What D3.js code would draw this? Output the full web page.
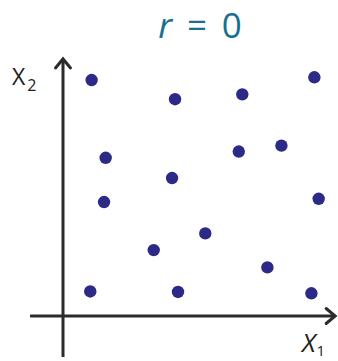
<!DOCTYPE html>
<html>
<head>
<meta charset="utf-8">
<script src="https://cdn.jsdelivr.net/npm/d3@7"></script>
<style>
  html, body { margin: 0; padding: 0; background: #fff; }
  svg { display: block; }
</style>
</head>
<body>
<div id="chart"></div>
<script>
// Data
const x1Values = [10.6, 41.5, 66.4, 93.1, 15.8, 65.1, 80.9, 40.4, 15.2, 94.7, 52.7, 33.6, 75.7, 10.1, 42.6, 92.0];
const x2Values = [87.4, 80.3, 82.1, 88.4, 58.6, 60.9, 63.1, 51.1, 42.2, 43.4, 30.6, 24.4, 18.0, 9.1, 8.9, 8.4];
const titleText = "r = 0";
const xLabel = "X";
const xSub = "1";
const yLabel = "X";
const ySub = "2";

const W = 338, H = 361;
const svg = d3.select("#chart").append("svg").attr("width", W).attr("height", H);

const x = d3.scaleLinear().domain([0, 100]).range([63, 333]);
const y = d3.scaleLinear().domain([0, 100]).range([316, 46]);

const axisColor = "#2b2b2b";
const font = "'Open Sans', 'Noto Sans', sans-serif";

// axes
const x0 = x(0), y0 = y(0);
const xStart = x(-12.2), xEnd = x(100.8);
const yStart = y(-15.2), yEnd = y(95.2);
svg.append("line").attr("x1", xStart).attr("x2", xEnd - 1).attr("y1", y0).attr("y2", y0)
  .attr("stroke", axisColor).attr("stroke-width", 3);
svg.append("line").attr("x1", x0).attr("x2", x0).attr("y1", yStart).attr("y2", yEnd + 1)
  .attr("stroke", axisColor).attr("stroke-width", 3);
// arrowheads
svg.append("polyline")
  .attr("points", `${xEnd - 9},${y0 - 7.5} ${xEnd},${y0} ${xEnd - 9},${y0 + 7.5}`)
  .attr("fill", "none").attr("stroke", axisColor).attr("stroke-width", 3)
  .attr("stroke-linecap", "round").attr("stroke-linejoin", "miter");
svg.append("polyline")
  .attr("points", `${x0 - 7.5},${yEnd + 9} ${x0},${yEnd} ${x0 + 7.5},${yEnd + 9}`)
  .attr("fill", "none").attr("stroke", axisColor).attr("stroke-width", 3)
  .attr("stroke-linecap", "round").attr("stroke-linejoin", "miter");

// points
svg.append("g").selectAll("circle")
  .data(x1Values.map((v, i) => [v, x2Values[i]]))
  .join("circle")
  .attr("cx", d => x(d[0]))
  .attr("cy", d => y(d[1]))
  .attr("r", 6.2)
  .attr("fill", "#2c2a86");

// title
const t = svg.append("text").attr("x", 200).attr("y", 38)
  .attr("text-anchor", "middle").attr("font-family", font)
  .attr("font-size", 35).attr("fill", "#17708f").attr("xml:space", "preserve");
t.append("tspan").attr("font-style", "italic").text("r");
t.append("tspan").text("\u2009 = \u2009");
t.append("tspan").text("0");

// axis labels
const yl = svg.append("text").attr("x", 12).attr("y", 85)
  .attr("font-family", font).attr("font-size", 23).attr("fill", "#222");
yl.append("tspan").text(yLabel);
yl.append("tspan").attr("font-size", 16).attr("dx", 2).attr("dy", 6).text(ySub);

const xl = svg.append("text").attr("x", 302).attr("y", 352)
  .attr("font-family", font).attr("font-size", 26).attr("font-style", "italic").attr("fill", "#222");
xl.append("tspan").text(xLabel);
xl.append("tspan").attr("font-size", 15).attr("font-style", "normal").attr("dx", 1).attr("dy", 4).text(xSub);
</script>
</body>
</html>
